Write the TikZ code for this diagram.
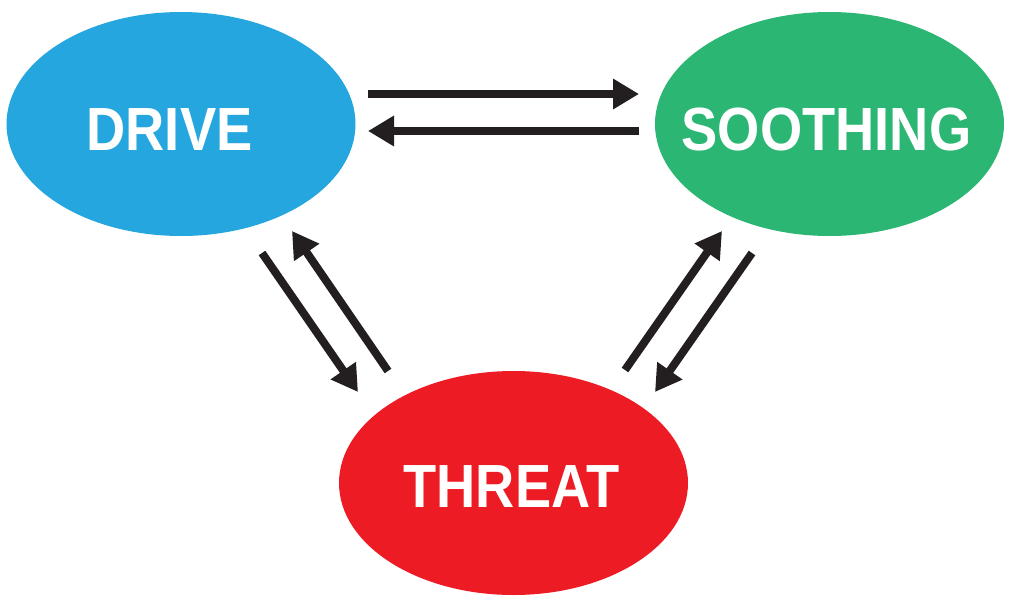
\documentclass[tikz,border=0pt]{standalone}
\usepackage{fontspec}
\usepackage{tikz}
\usetikzlibrary{arrows.meta,calc,shapes.geometric}

\newfontfamily\labelfont[FakeStretch=0.89]{Liberation Sans}
\definecolor{driveblue}{RGB}{38,166,222}
\definecolor{soothgreen}{RGB}{43,182,115}
\definecolor{threatred}{RGB}{237,28,36}
\definecolor{arrowblack}{RGB}{35,31,32}

\begin{document}
\begin{tikzpicture}[
    blob/.style={ellipse, inner sep=0pt, minimum width=6.98cm, minimum height=4.48cm},
    word/.style={text=white, inner sep=0pt, font=\labelfont\bfseries\fontsize{34.7}{40}\selectfont},
    flow/.style={draw=arrowblack, line width=0.16cm, -{Triangle[length=0.52cm,width=0.58cm]}}
]

\useasboundingbox (0,0) rectangle (20.48,-12.26);

\node [blob, fill=driveblue]  (drive)    at (3.62,-2.48)  {};
\node [blob, fill=soothgreen] (soothing) at (16.59,-2.48) {};
\node [blob, fill=threatred]  (threat)   at (10.27,-9.66) {};

\node [word] (drivetext)    at ($(drive.center)+(-0.23,-0.11)$)    {DRIVE};
\node [word] (soothingtext) at ($(soothing.center)+(-0.06,-0.11)$) {SOOTHING};
\node [word] (threattext)   at ($(threat.center)+(-0.04,-0.07)$)   {THREAT};

% top pair
\draw [flow] ($(drive.center)+(3.74,0.6)$) -- ($(soothing.center)+(-3.81,0.6)$);
\draw [flow] ($(soothing.center)+(-3.81,-0.14)$) -- ($(drive.center)+(3.74,-0.14)$);

% left pair
\draw [flow] ($(drive.center)+(1.62,-2.58)$) -- ($(threat.center)+(-3.11,1.82)$);
\draw [flow] ($(threat.center)+(-2.51,2.24)$) -- ($(drive.center)+(2.22,-2.14)$);

% right pair
\draw [flow] ($(threat.center)+(2.23,2.26)$) -- ($(soothing.center)+(-2.15,-2.14)$);
\draw [flow] ($(soothing.center)+(-1.55,-2.58)$) -- ($(threat.center)+(2.83,1.82)$);

\end{tikzpicture}
\end{document}
